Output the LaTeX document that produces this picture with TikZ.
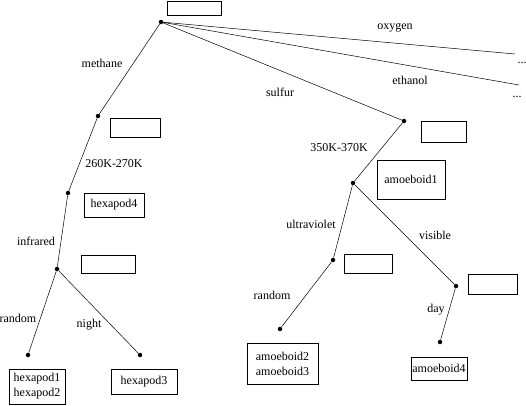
\documentclass[tikz,border=0pt]{standalone}
\usepackage{fontspec}
\setmainfont{Liberation Serif}
\begin{document}
\begin{tikzpicture}[x=1pt,y=1pt,
  dot/.style={circle,fill=black,inner sep=0pt,minimum size=4.5pt},
  edge/.style={line width=0.5pt},
  lbl/.style={inner sep=0pt,font=\fontsize{12}{14}\selectfont},
  box/.style={draw,line width=0.6pt,inner sep=0pt,align=center,font=\fontsize{12}{15}\selectfont}]
\useasboundingbox (0,0) rectangle (526,-405);
% dots
\node[dot] (r) at (161,-22) {};
\coordinate (oxy) at (515,-54);
\coordinate (eth) at (519,-85);
\node[dot] (s) at (404,-121) {};
\node[dot] (m) at (98,-116) {};
\node[dot] (t1) at (68,-193) {};
\node[dot] (ir) at (57,-269) {};
\node[dot] (rl) at (28,-355) {};
\node[dot] (nt) at (140,-355) {};
\node[dot] (t2) at (353,-183) {};
\node[dot] (uv) at (333,-260) {};
\node[dot] (vis) at (456,-286) {};
\node[dot] (r2) at (280,-329) {};
\node[dot] (dy) at (440,-342) {};
% edges
\draw[edge] (r.center) -- (oxy);
\draw[edge] (r.center) -- (eth);
\draw[edge] (r) -- (s);
\draw[edge] (r) -- (m);
\draw[edge] (m) -- (t1);
\draw[edge] (t1) -- (ir);
\draw[edge] (ir) -- (rl);
\draw[edge] (ir) -- (nt);
\draw[edge] (s) -- (t2);
\draw[edge] (t2) -- (uv);
\draw[edge] (t2) -- (vis);
\draw[edge] (uv) -- (r2);
\draw[edge] (vis) -- (dy);
% labels
\node[lbl] (loxy) at (395,-28) {oxygen};
\node[lbl] (leth) at (410,-80) {ethanol};
\node[lbl] (ld1) at (522,-63) {...};
\node[lbl] (ld2) at (517,-97) {...};
\node[lbl] (lsul) at (280,-92) {sulfur};
\node[lbl] (lmet) at (102,-63) {methane};
\node[lbl] (l260) at (114,-164) {260K-270K};
\node[lbl] (lir) at (36,-241) {infrared};
\node[lbl] (lrnd) at (18,-318) {random};
\node[lbl] (lnt) at (89,-325) {night};
\node[lbl] (l350) at (339,-148) {350K-370K};
\node[lbl] (luv) at (311,-224) {ultraviolet};
\node[lbl] (lvis) at (435,-235) {visible};
\node[lbl] (lrnd2) at (272,-295) {random};
\node[lbl] (lday) at (436,-310) {day};
% boxes
\node[box,minimum width=54pt,minimum height=14pt] (b0) at (194,-8) {};
\node[box,minimum width=50pt,minimum height=19pt] (bm) at (135,-127.5) {};
\node[box,minimum width=60pt,minimum height=24pt] (h4) at (114,-205) {hexapod4};
\node[box,minimum width=54pt,minimum height=18pt] (bir) at (108,-264) {};
\node[box,minimum width=56pt,minimum height=35pt] (h12) at (37,-386.5) {hexapod1\\hexapod2};
\node[box,minimum width=66pt,minimum height=25pt] (h3) at (144,-381.5) {hexapod3};
\node[box,minimum width=45pt,minimum height=21pt] (bs) at (443.5,-131.5) {};
\node[box,minimum width=68pt,minimum height=39pt] (a1) at (411,-179.5) {amoeboid1};
\node[box,minimum width=48pt,minimum height=19pt] (buv) at (368,-263.5) {};
\node[box,minimum width=49pt,minimum height=20pt] (bvis) at (492.5,-284) {};
\node[box,minimum width=71pt,minimum height=41pt] (a23) at (282.5,-363.5) {amoeboid2\\amoeboid3};
\node[box,minimum width=56pt,minimum height=23pt] (a4) at (439,-368.5) {amoeboid4};
\end{tikzpicture}
\end{document}
